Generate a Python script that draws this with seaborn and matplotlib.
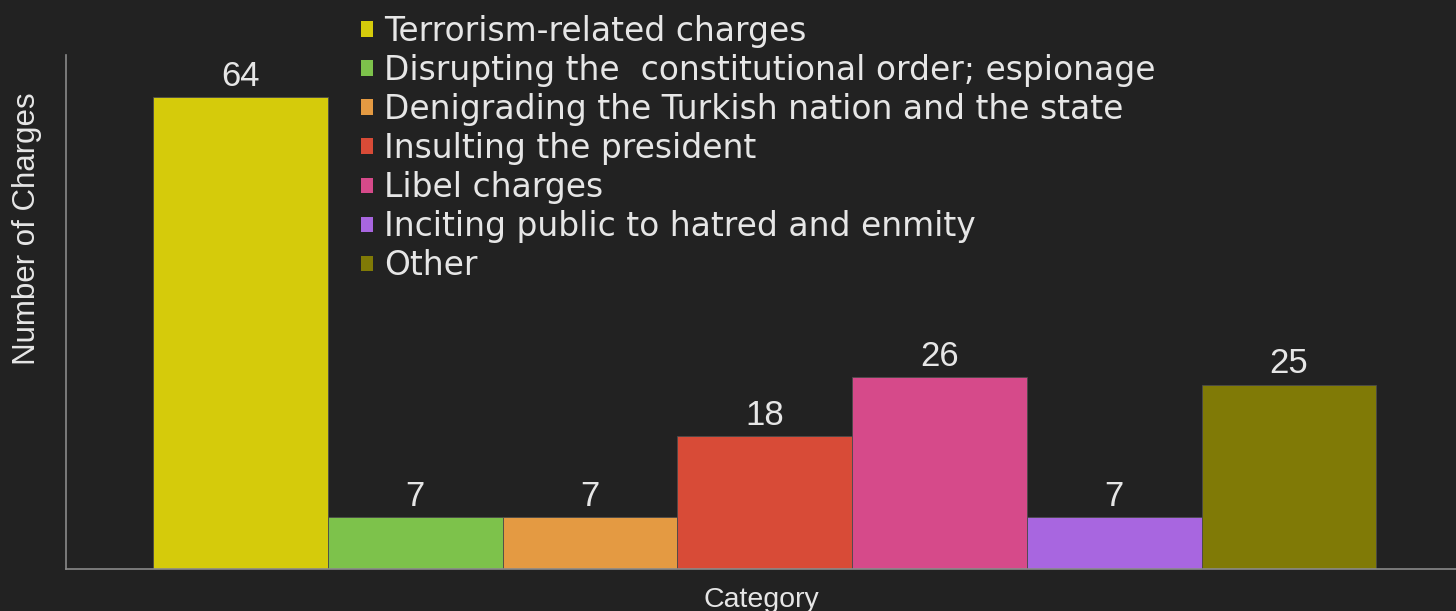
import matplotlib
matplotlib.use("Agg")
import matplotlib.pyplot as plt
import seaborn as sns
import pandas as pd

categories = [
    "Terrorism-related charges",
    "Disrupting the  constitutional order; espionage",
    "Denigrading the Turkish nation and the state",
    "Insulting the president",
    "Libel charges",
    "Inciting public to hatred and enmity",
    "Other",
]
values = [64, 7, 7, 18, 26, 7, 25]
colors = ["#D5CB0B", "#7DC24B", "#E49A42", "#D84B37", "#D64A8A", "#A866E0", "#807A06"]
group = ["Category"] * len(categories)

BG = "#222222"
FG = "#E6E6E6"

sns.set_theme(style="dark")
plt.rcParams["font.family"] = ["Liberation Sans", "DejaVu Sans"]

df = pd.DataFrame({"group": group, "charge": categories, "count": values})

W, H = 1456, 611
fig = plt.figure(figsize=(W / 100, H / 100), dpi=100, facecolor=BG)
ax = fig.add_axes([66 / W, 1 - 569 / H, (1456 - 66) / W, (569 - 55) / H])
ax.set_facecolor(BG)

sns.barplot(data=df, x="group", y="count", hue="charge", hue_order=categories,
            palette=colors, width=0.8, dodge=True, saturation=1,
            edgecolor="#4a4a4a", linewidth=0.6, ax=ax)

ax.set_xlim(-0.457, 0.452)
ax.set_ylim(0, 69.7)

for c in ax.containers:
    ax.bar_label(c, padding=3, color=FG, fontsize=25)

ax.set_xticks([])
ax.set_yticks([])
for s in ["top", "right"]:
    ax.spines[s].set_visible(False)
for s in ["left", "bottom"]:
    ax.spines[s].set_visible(True)
    ax.spines[s].set_color("#8a8a8a")
    ax.spines[s].set_linewidth(1.2)

ax.set_ylabel("Number of Charges", color=FG, fontsize=22.5)
ax.yaxis.set_label_coords(-0.0175, 0.663)
ax.set_xlabel("Category", color=FG, fontsize=20.5, labelpad=13)

handles, labels = ax.get_legend_handles_labels()
leg = ax.legend(handles, labels, loc="upper left", bbox_to_anchor=(361 / W, 1 - 15 / H),
                bbox_transform=fig.transFigure, frameon=False,
                prop={"family": "DejaVu Sans", "size": 23.7},
                handlelength=0.36, handleheight=0.36, handletextpad=0.33,
                labelspacing=0.184, borderpad=0, borderaxespad=0)
for t in leg.get_texts():
    t.set_color(FG)
for h in leg.legend_handles:
    h.set_edgecolor("none")

fig.savefig("out.png", dpi=100, facecolor=BG)
